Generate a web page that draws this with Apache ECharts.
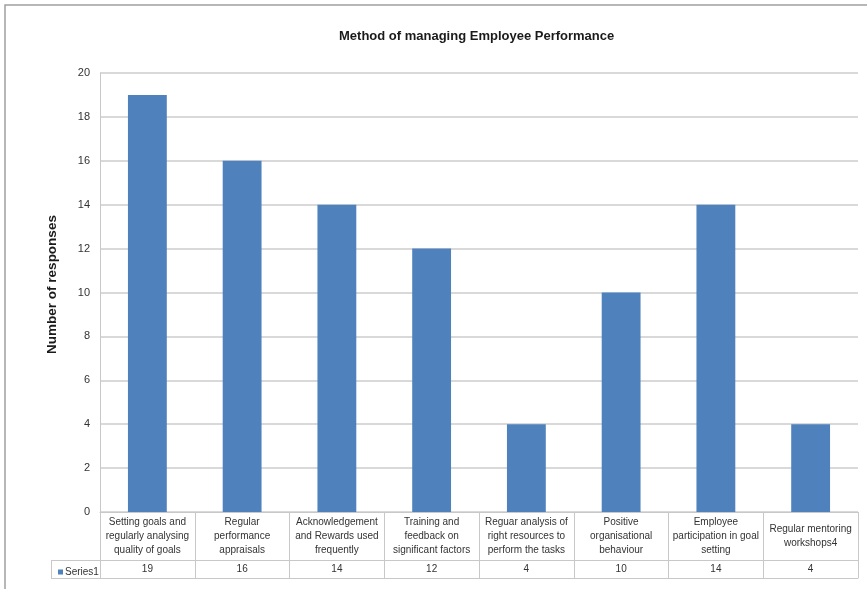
<!DOCTYPE html>
<html>
<head>
<meta charset="utf-8">
<script src="https://cdn.jsdelivr.net/npm/echarts@6/dist/echarts.min.js"></script>
<style>html,body{margin:0;padding:0;background:#fff;}#c{width:867px;height:589px;}</style>
</head>
<body>
<div id="c"></div>
<script>
const categories = [
  "Setting goals and\nregularly analysing\nquality of goals",
  "Regular\nperformance\nappraisals",
  "Acknowledgement\nand Rewards used\nfrequently",
  "Training and\nfeedback on\nsignificant factors",
  "Reguar analysis of\nright resources to\nperform the tasks",
  "Positive\norganisational\nbehaviour",
  "Employee\nparticipation in goal\nsetting",
  "Regular mentoring\nworkshops4"
];
const series1 = [19, 16, 14, 12, 4, 10, 14, 4];
const seriesName = "Series1";
const titleText = "Method of managing Employee Performance";
const yAxisName = "Number of responses";

const SANS = '"Liberation Sans", Arial, sans-serif';
const lineCol = '#c8c8c8';

const chart = echarts.init(document.getElementById('c'), null, {renderer: 'canvas'});
chart.setOption({
  animation: false,
  backgroundColor: '#fff',
  title: {
    text: titleText,
    left: 334, top: 25,
    textStyle: {fontFamily: SANS, fontSize: 13, fontWeight: 'bold', color: '#1a1a1a'}
  },
  legend: {
    data: [seriesName],
    left: 53, top: 562,
    itemWidth: 5, itemHeight: 5, itemGap: 2,
    icon: 'rect',
    textStyle: {fontFamily: SANS, fontSize: 10, color: '#333', padding: [0,0,0,-3]},
    selectedMode: false
  },
  grid: {left: 100, right: 9, top: 73, bottom: 77, containLabel: false},
  xAxis: [
    {
      type: 'category', data: categories, position: 'bottom',
      axisLine: {show: true, lineStyle: {color: lineCol, width: 1}},
      axisTick: {show: true, alignWithLabel: false, length: 66, lineStyle: {color: lineCol}},
      axisLabel: {
        interval: 0, margin: 24, verticalAlign: 'middle',
        fontFamily: SANS, fontSize: 10, color: '#333', lineHeight: 14
      },
      splitLine: {show: false}
    },
    {
      type: 'category', data: series1.map(String), position: 'bottom', offset: 48,
      axisLine: {show: true, lineStyle: {color: lineCol, width: 1}},
      axisTick: {show: false},
      axisLabel: {interval: 0, margin: 4, fontFamily: SANS, fontSize: 10, color: '#333'}
    },
    {
      type: 'category', data: categories, position: 'bottom', offset: 66,
      axisLine: {show: true, lineStyle: {color: lineCol, width: 1}},
      axisTick: {show: false}, axisLabel: {show: false}
    }
  ],
  yAxis: {
    type: 'value', min: 0, max: 20, interval: 2,
    name: yAxisName, nameLocation: 'middle', nameGap: 41, nameRotate: 90,
    nameTextStyle: {fontFamily: SANS, fontSize: 13.5, fontWeight: 'bold', color: '#1a1a1a', padding: [0, 0, 0, 16]},
    axisLine: {show: true, lineStyle: {color: lineCol, width: 1}},
    axisTick: {show: false},
    axisLabel: {fontFamily: SANS, fontSize: 11, color: '#333', margin: 10},
    splitLine: {show: true, lineStyle: {color: '#d9d9d9', width: 2}}
  },
  series: [{
    name: seriesName, type: 'bar', data: series1, xAxisIndex: 0,
    barWidth: '41%',
    itemStyle: {color: '#4f81bd'}
  }],
  graphic: [
    {type: 'rect', shape: {x: 5, y: 5, width: 900, height: 700}, style: {fill: 'none', stroke: '#a0a0a0', lineWidth: 1.5}, silent: true},
    {type: 'line', shape: {x1: 51, y1: 560.5, x2: 100, y2: 560.5}, style: {stroke: lineCol, lineWidth: 1}},
    {type: 'line', shape: {x1: 51, y1: 578.5, x2: 100, y2: 578.5}, style: {stroke: lineCol, lineWidth: 1}},
    {type: 'line', shape: {x1: 51.5, y1: 560, x2: 51.5, y2: 579}, style: {stroke: lineCol, lineWidth: 1}}
  ]
});
</script>
</body>
</html>
